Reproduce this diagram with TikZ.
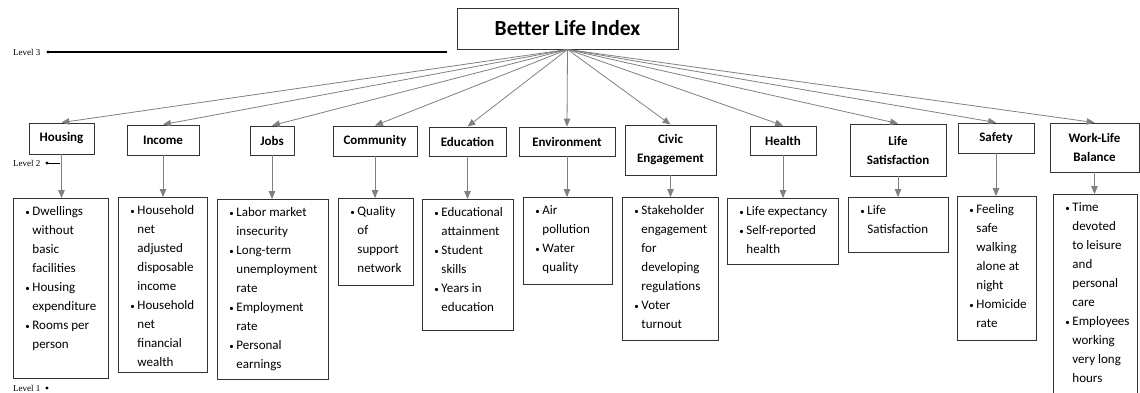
\documentclass[tikz,border=0pt]{standalone}
\usepackage{fontspec}
\setmainfont{Carlito}
\newfontfamily\levelfont{Liberation Serif}
\usepackage{tikz}
\usetikzlibrary{arrows,positioning}
\tikzset{
	topicbox/.style={draw=black!80,line width=0.9pt,inner sep=2pt,align=center,font=\fontsize{13}{19}\selectfont\bfseries},
	detailbox/.style={draw=black!80,line width=0.9pt,inner xsep=0pt,inner ysep=8pt,font=\fontsize{13}{19}\selectfont},
	link/.style={draw=black!50,line width=0.8pt,arrows={-triangle 45}},
	levellabel/.style={font=\levelfont\fontsize{9}{10}\selectfont,inner sep=0pt,anchor=west}
}
\newcommand{\topic}[6]{\node[topicbox,minimum width=#5pt,minimum height=#6pt](#1) at (#3,#4) {#2};}
\newcommand{\details}[6]{\node[detailbox,anchor=north west](#1) at (#2,#3) {\parbox[t][\dimexpr#5pt-16pt\relax][t]{#4pt}{\raggedright\leftskip=12pt\hyphenpenalty=10000\exhyphenpenalty=10000 #6}};}
\newcommand{\bi}{\makebox[7pt][l]{\fontsize{9}{9}\selectfont\textbullet}}
\newcommand{\bc}{\hspace*{7pt}}

\begin{document}
\begin{tikzpicture}[x=1pt,y=-1pt]
	\useasboundingbox (0,0) rectangle (1140,392);

	\node[draw=black!80,line width=0.9pt,minimum width=221pt,minimum height=41pt,font=\fontsize{21.5}{24}\selectfont\bfseries](bli) at (567.5,28.5) {Better Life Index};

	% level 2 topics
	\topic{hou}{Housing}{61.5}{138.5}{65}{31}
	\topic{inc}{Income}{163}{140}{72}{30}
	\topic{job}{Jobs}{272}{140.5}{44}{29}
	\topic{com}{Community}{375}{141}{84}{30}
	\topic{edu}{Education}{467.5}{141.5}{77}{29}
	\topic{env}{Environment}{567}{141.5}{96}{29}
	\topic{civ}{Civic\\Engagement}{670.5}{150}{91}{50}
	\topic{hea}{Health}{783}{140.5}{66}{29}
	\topic{lif}{Life\\Satisfaction}{898}{150}{96}{52}
	\topic{saf}{Safety}{996}{138}{76}{30}
	\topic{wlb}{Work-Life\\Balance}{1094.5}{147.5}{89}{49}

	\draw[link] (bli.south) -- (hou.north);
	\draw[link] (bli.south) -- (inc.north);
	\draw[link] (bli.south) -- (job.north);
	\draw[link] (bli.south) -- (com.north);
	\draw[link] (bli.south) -- (edu.north);
	\draw[link] (bli.south) -- (env.north);
	\draw[link] (bli.south) -- (civ.north);
	\draw[link] (bli.south) -- (hea.north);
	\draw[link] (bli.south) -- (lif.north);
	\draw[link] (bli.south) -- (saf.north);
	\draw[link] (bli.south) -- (wlb.north);

	% level 1 indicators
	\details{hou_d}{13}{198}{95}{180}{\bi Dwellings\\\bc without\\\bc basic\\\bc facilities\\\bi Housing\\\bc expenditure\\\bi Rooms per\\\bc person}
	\details{inc_d}{118}{197}{89}{175}{\bi Household\\\bc net\\\bc adjusted\\\bc disposable\\\bc income\\\bi Household\\\bc net\\\bc financial\\\bc wealth}
	\details{job_d}{217}{199}{111}{180}{\bi Labor market\\\bc insecurity\\\bi Long-term\\\bc unemployment\\\bc rate\\\bi Employment\\\bc rate\\\bi Personal\\\bc earnings}
	\details{com_d}{338}{198}{75}{87}{\bi Quality\\\bc of\\\bc support\\\bc network}
	\details{edu_d}{422}{199}{91}{131}{\bi Educational\\\bc attainment\\\bi Student\\\bc skills\\\bi Years in\\\bc education}
	\details{env_d}{523}{197}{89}{87}{\bi Air\\\bc pollution\\\bi Water\\\bc quality}
	\details{civ_d}{622}{197}{96}{143}{\bi Stakeholder\\\bc engagement\\\bc for\\\bc developing\\\bc regulations\\\bi Voter\\\bc turnout}
	\details{hea_d}{727}{198}{111}{66}{\bi Life expectancy\\\bi Self-reported\\\bc health}
	\details{lif_d}{848}{197}{100}{55}{\bi Life\\\bc Satisfaction}
	\details{saf_d}{957}{196}{79}{144}{\bi Feeling\\\bc safe\\\bc walking\\\bc alone at\\\bc night\\\bi Homicide\\\bc rate}
	\details{wlb_d}{1053}{194}{84}{210}{\bi Time\\\bc devoted\\\bc to leisure\\\bc and\\\bc personal\\\bc care\\\bi Employees\\\bc working\\\bc very long\\\bc hours}

	\draw[link] (hou.south) -- (hou.south |- hou_d.north);
	\draw[link] (inc.south) -- (inc.south |- inc_d.north);
	\draw[link] (job.south) -- (job.south |- job_d.north);
	\draw[link] (com.south) -- (com.south |- com_d.north);
	\draw[link] (edu.south) -- (edu.south |- edu_d.north);
	\draw[link] (env.south) -- (env.south |- env_d.north);
	\draw[link] (civ.south) -- (civ.south |- civ_d.north);
	\draw[link] (hea.south) -- (hea.south |- hea_d.north);
	\draw[link] (lif.south) -- (lif.south |- lif_d.north);
	\draw[link] (saf.south) -- (saf.south |- saf_d.north);
	\draw[link] (wlb.south) -- (wlb.south |- wlb_d.north);

	% level markers
	\node[levellabel](lv3) at (13,52) {Level 3};
	\coordinate (lv3dot) at (48,52);
	\coordinate (lv3end) at (447,52);
	\fill (lv3dot) circle (1.6pt);
	\draw[line width=1.2pt] (lv3dot) -- (lv3end);

	\node[levellabel](lv2) at (13,163) {Level 2};
	\coordinate (lv2dot) at (47,163);
	\coordinate (lv2end) at (60,163);
	\fill (lv2dot) circle (1.6pt);
	\draw[line width=0.9pt] (lv2dot) -- (lv2end);

	\node[levellabel](lv1) at (13,388) {Level 1};
	\coordinate (lv1dot) at (47,388);
	\fill (lv1dot) circle (1.6pt);
\end{tikzpicture}
\end{document}
